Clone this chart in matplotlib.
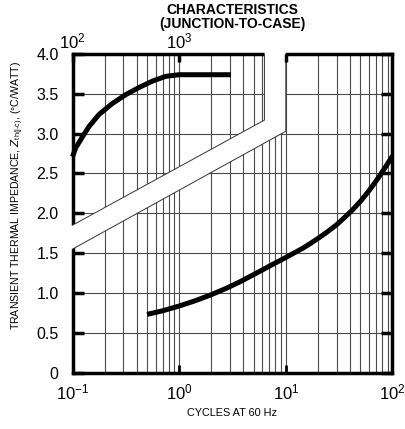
import matplotlib
matplotlib.use("Agg")
import matplotlib.pyplot as plt
import numpy as np

plt.rcParams['font.family'] = ['Liberation Sans', 'DejaVu Sans']
plt.rcParams['mathtext.default'] = 'regular'

# lower curve, cycles at 60 Hz (bottom scale)
cycles = [0.5, 0.7, 1.0, 1.44, 1.98, 2.74, 3.66, 5.25, 7.0, 10.0, 14.4, 17.2,
          20.6, 24.7, 29.6, 35.4, 42.4, 50.8, 60.8, 72.8, 87.3, 100]
z_cycles = [0.73, 0.775, 0.835, 0.905, 0.975, 1.055, 1.135, 1.245, 1.335, 1.445,
            1.56, 1.625, 1.695, 1.77, 1.85, 1.945, 2.045, 2.16, 2.29, 2.435, 2.595, 2.72]

# upper curve, read against the top scale
cycles_top = [100, 107, 124, 143, 177, 237, 316, 421, 562, 750, 1000, 3060]
z_top = [2.71, 2.82, 2.96, 3.09, 3.24, 3.38, 3.49, 3.58, 3.66, 3.72, 3.74, 3.74]

# scale break band (bottom scale units)
break_upper = [(0.1, 1.85), (6.3, 3.17)]
break_lower = [(0.1, 1.55), (10.0, 3.03)]

xticks = [0.1, 1, 10, 100]
xtick_labels = ['$10^{-1}$', '$10^{0}$', '$10^{1}$', '$10^{2}$']
top_ticks = [1e2, 1e3, 1e4]
top_labels = ['$10^{2}$', '$10^{3}$', '']
yticks = [0, 0.5, 1.0, 1.5, 2.0, 2.5, 3.0, 3.5, 4.0]
ytick_labels = ['0', '0.5', '1.0', '1.5', '2.0', '2.5', '3.0', '3.5', '4.0']

fig = plt.figure(figsize=(4.06, 4.29), dpi=100)
ax = fig.add_axes([0.1786, 0.1317, 0.7881, 0.7424])
ax.set_xscale('log')
ax.set_xlim(0.1, 100)
ax.set_ylim(0, 4.0)

ax.grid(True, which='both', axis='x', color='#4a4a4a', lw=0.8)
ax.grid(True, which='major', axis='y', color='#4a4a4a', lw=0.8)
ax.set_yticks(yticks, ytick_labels, fontsize=11.5)
ax.set_xticks(xticks, xtick_labels, fontsize=12)
ax.xaxis.set_minor_formatter(matplotlib.ticker.NullFormatter())
ax.tick_params(axis='x', which='major', direction='in', length=6, width=2,
               top=False, pad=7)
ax.tick_params(axis='x', which='minor', length=0)
ax.tick_params(axis='y', direction='in', length=8, width=2.5, right=True, pad=10)
for s in ax.spines.values():
    s.set_linewidth(2.5)

# white band that breaks the axes, covering grid and spines
(ux0, uy0), (ux1, uy1) = break_upper
(lx0, ly0), (lx1, ly1) = break_lower
poly_x = [0.09, ux0, ux1, ux1, lx1, lx1, lx0, 0.09]
poly_y = [uy0 - 0.02, uy0, uy1, 4.1, 4.1, ly1, ly0, ly0 - 0.02]
ax.fill(poly_x, poly_y, color='white', zorder=3, clip_on=False, lw=0)
edge = dict(color='#333333', lw=0.7, zorder=3.1, clip_on=False)
ax.plot([ux0, ux1, ux1], [uy0, uy1, 4.0], **edge)
ax.plot([lx0, lx1, lx1], [ly0, ly1, 4.0], **edge)

ax.plot(cycles, z_cycles, color='black', lw=3.6, solid_capstyle='butt',
        solid_joinstyle='round', zorder=4)

# top scale for the upper curve
ax2 = ax.twiny()
ax2.set_xscale('log')
ax2.set_xlim(1e2, 1e5)
for s in ax2.spines.values():
    s.set_visible(False)
ax2.set_xticks(top_ticks, top_labels, fontsize=12)
ax2.xaxis.set_minor_locator(matplotlib.ticker.NullLocator())
ax2.tick_params(axis='x', direction='in', length=6, width=2.5, pad=2)
ax2.plot(cycles_top, z_top, color='black', lw=3.6, solid_capstyle='butt',
         solid_joinstyle='round', clip_on=False)

fig.text(0.572, 0.977, 'CHARACTERISTICS', ha='center', va='center',
         fontsize=10, fontweight='bold')
fig.text(0.572, 0.944, '(JUNCTION-TO-CASE)', ha='center', va='center',
         fontsize=10, fontweight='bold')
fig.text(0.572, 0.038, 'CYCLES AT 60 Hz', ha='center', va='center', fontsize=7.8)
fig.text(0.044, 0.545,
         'TRANSIENT THERMAL IMPEDANCE, $\\mathit{Z}_{th(j\\text{-}c)}$, (°C/WATT)',
         rotation=90, ha='center', va='center', fontsize=7.6)

fig.savefig('out.png', dpi=100)
